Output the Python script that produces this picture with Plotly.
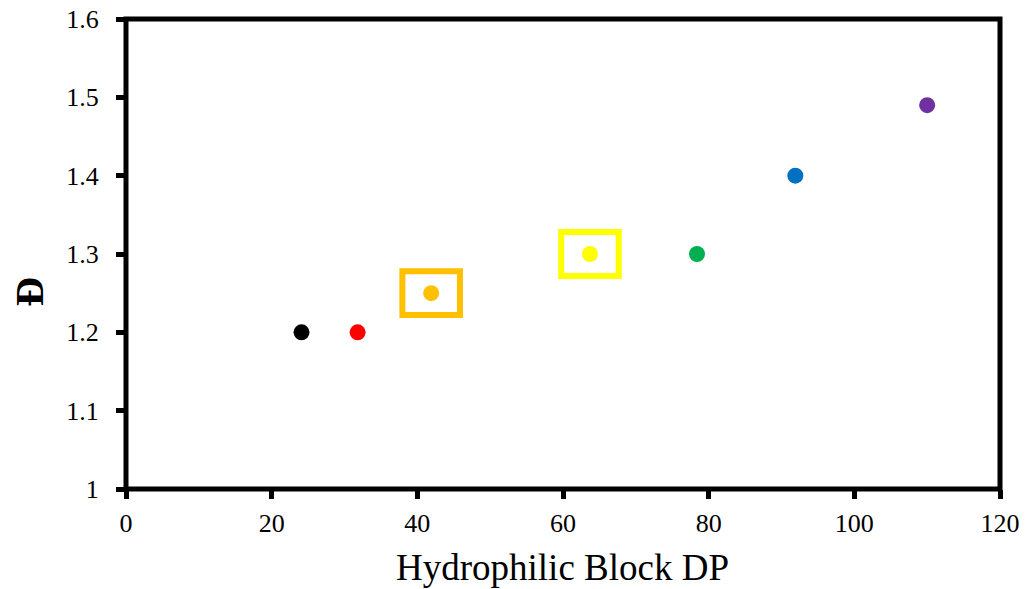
import plotly.graph_objects as go

dp = [24.1, 31.8, 41.9, 63.7, 78.4, 91.9, 110.0]
dispersity = [1.20, 1.20, 1.25, 1.30, 1.30, 1.40, 1.49]
colors = ["#000000", "#FF0000", "#FFC000", "#FFFF00", "#00B050", "#0070C0", "#7030A0"]
boxed = [2, 3]  # indices of highlighted points
box_colors = ["#FFC000", "#FFFF00"]
x_ticks = [0, 20, 40, 60, 80, 100, 120]
y_ticks = [1, 1.1, 1.2, 1.3, 1.4, 1.5, 1.6]

W, H = 1025, 589
L, R, T, B = 125.5, 25, 18.5, 99.5
LW = 5
px_x = (W - L - R)
px_y = (H - T - B)

fig = go.Figure()
fig.add_trace(go.Scatter(
    x=dp, y=dispersity, mode="markers",
    marker=dict(color=colors, size=16, line=dict(width=0)),
    showlegend=False, cliponaxis=False,
))

half_w, half_h = 3.95, 0.028
for i, c in zip(boxed, box_colors):
    fig.add_shape(type="rect", xref="x", yref="y",
                  x0=dp[i] - half_w, x1=dp[i] + half_w,
                  y0=dispersity[i] - half_h, y1=dispersity[i] + half_h,
                  line=dict(color=c, width=6), layer="below")

# plot frame centred on the plot-area edge
fig.add_shape(type="rect", xref="paper", yref="paper", x0=0, x1=1, y0=0, y1=1,
              line=dict(color="black", width=LW), layer="above")

font_family = "Liberation Serif, Times New Roman, serif"
axis_common = dict(
    showline=False,
    ticks="outside", ticklen=9, tickwidth=5, tickcolor="black",
    showgrid=False, zeroline=False, automargin=False,
    tickfont=dict(family=font_family, size=26, color="black"),
)
fig.update_xaxes(range=[0, 120], tickvals=x_ticks, ticklabelstandoff=2, **axis_common)
fig.update_yaxes(range=[1, 1.6], tickvals=y_ticks,
                 ticktext=[f"{v:g}" for v in y_ticks],
                 ticklabelstandoff=12, **axis_common)

def px_to_paper_x(px):
    return (px - L) / px_x

def px_to_paper_y(py):
    return (H - B - py) / px_y

fig.add_annotation(text="Hydrophilic Block DP", xref="paper", yref="paper",
                   x=px_to_paper_x(562), y=px_to_paper_y(568),
                   xanchor="center", yanchor="middle", showarrow=False,
                   font=dict(family=font_family, size=37, color="black"))
fig.add_annotation(text="<b>Đ</b>", xref="paper", yref="paper",
                   x=px_to_paper_x(28), y=px_to_paper_y(292),
                   xanchor="center", yanchor="middle", showarrow=False,
                   textangle=-90,
                   font=dict(family=font_family, size=41, color="black"))

fig.update_layout(
    width=W, height=H,
    margin=dict(l=L, r=R, t=T, b=B),
    plot_bgcolor="white", paper_bgcolor="white",
)
fig.write_html("out.html")
